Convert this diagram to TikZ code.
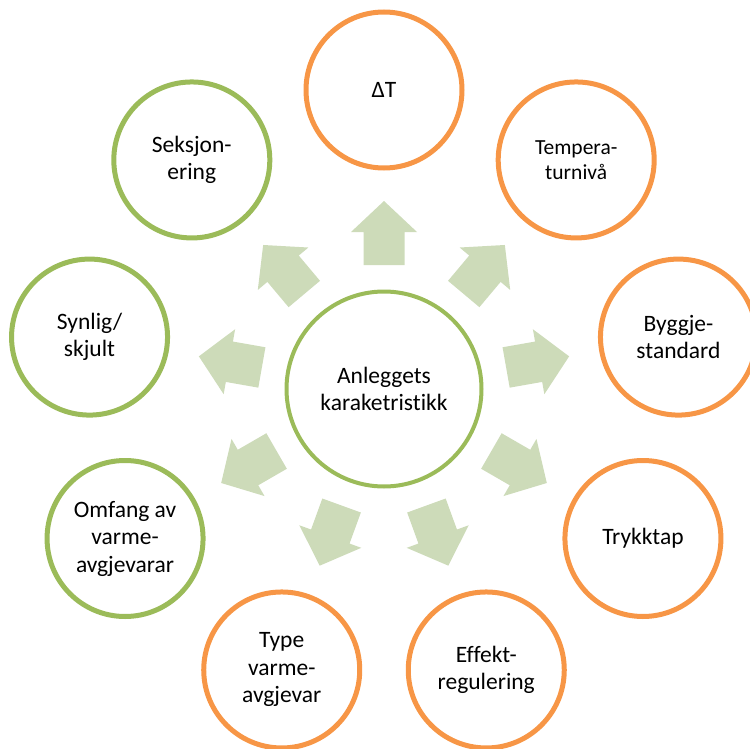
\documentclass[tikz,border=0pt]{standalone}
\usepackage{fontspec}
\setmainfont{Carlito}[Ligatures={NoCommon}]
\definecolor{orng}{RGB}{247,150,70}
\definecolor{grn}{RGB}{155,187,89}
\definecolor{arrowfill}{RGB}{205,219,185}
\begin{document}
\begin{tikzpicture}[x=1pt,y=1pt,
  hub/.style={circle, draw=grn, line width=4pt, minimum size=195pt, inner sep=1pt, align=center, font=\fontsize{23.5}{27.5}\selectfont},
  spoke/.style={circle, line width=5pt, minimum size=156pt, inner sep=1pt, align=center, font=\fontsize{23.5}{27.5}\selectfont},
  og/.style={spoke, draw=orng},
  gg/.style={spoke, draw=grn},
  blockarrow/.style={fill=arrowfill, draw=none}]
\useasboundingbox (0,0) rectangle (750,-749);
\clip (0,0) rectangle (750,-749);
\coordinate (c) at (384,-389);
\foreach \a in {90,50,...,-230} {
  \fill[blockarrow, shift={(c)}, rotate=\a] (124,-20.5) -- (157,-20.5) -- (157,-33) -- (188,0) -- (157,33) -- (157,20.5) -- (124,20.5) -- cycle;
}
\node[hub] (hub) at (c) {Anleggets\\karaketristikk};
\node[og] (dT)   at ([shift={(90:299)}]c)  {ΔT};
\node[og, font=\fontsize{21.5}{25.5}\selectfont] (temp) at ([shift={(50:299)}]c)  {Tempera-\\turnivå};
\node[og] (bygg) at ([shift={(10:299)}]c)  {Byggje-\\standard};
\node[og] (tryk) at ([shift={(-30:299)}]c) {Trykktap};
\node[og] (eff)  at ([shift={(-70:299)}]c) {Effekt-\\regulering};
\node[og] (type) at ([shift={(-110:299)}]c) {Type\\varme-\\avgjevar};
\node[gg] (omf)  at ([shift={(-150:299)}]c) {Omfang av\\varme-\\avgjevarar};
\node[gg] (syn)  at ([shift={(170:299)}]c) {Synlig/\\skjult};
\node[gg] (seks) at ([shift={(130:299)}]c) {Seksjon-\\ering};
\end{tikzpicture}
\end{document}
